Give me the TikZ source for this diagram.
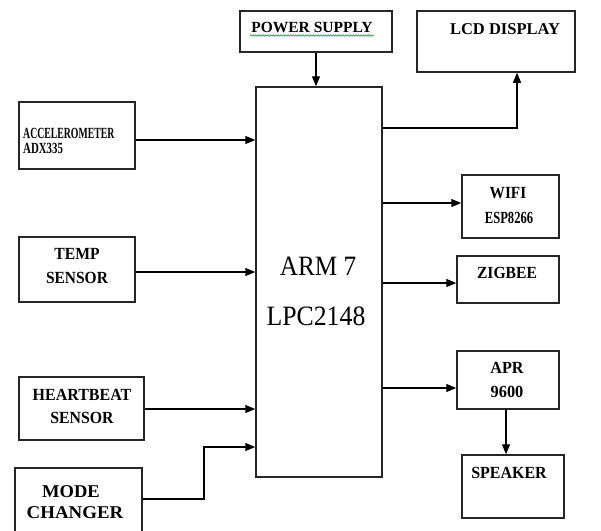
\documentclass[tikz,border=0pt]{standalone}
\usepackage{fontspec}
\setmainfont{Liberation Serif}
\usetikzlibrary{arrows.meta,decorations.pathmorphing}
\newcommand\tx[3]{\scalebox{#2}[1]{\fontsize{#1}{#1}\selectfont #3}}
\begin{document}
\begin{tikzpicture}[x=1pt,y=-1pt,
  box/.style={draw,line width=1.5pt,inner sep=0pt,draw=black!85},
  lbl/.style={inner sep=0pt,anchor=base,font=\bfseries},
  big/.style={inner sep=0pt,anchor=base},
  arr/.style={line width=1.3pt,-{Triangle[length=10pt,width=8pt]}}]
\useasboundingbox (0,0) rectangle (601,530);
\clip (0,0) rectangle (601,530);
\fill[white] (0,0) rectangle (601,530);
% boxes
\node[box,minimum width=152pt,minimum height=41pt] (power) at (316,31.5) {};
\node[box,minimum width=158pt,minimum height=61pt] (lcd) at (496,41.5) {};
\node[box,minimum width=126pt,minimum height=390pt] (arm) at (319,282) {};
\node[box,minimum width=116pt,minimum height=67pt] (acc) at (77,135.5) {};
\node[box,minimum width=116pt,minimum height=65pt] (temp) at (77,269.5) {};
\node[box,minimum width=125pt,minimum height=63pt] (heart) at (81.5,408.5) {};
\node[box,minimum width=127pt,minimum height=80pt] (mode) at (78.5,508) {};
\node[box,minimum width=97pt,minimum height=63pt] (wifi) at (510.5,206.5) {};
\node[box,minimum width=102pt,minimum height=47pt] (zig) at (508,279.5) {};
\node[box,minimum width=102pt,minimum height=58pt] (apr) at (508,380) {};
\node[box,minimum width=102pt,minimum height=63pt] (spk) at (513,486.5) {};
% texts
\node[lbl] (tpower) at (312,32) {\tx{15.5}{1.0}{POWER SUPPLY}};
\draw[green!55!black,line width=0.5pt,decorate,decoration={snake,amplitude=0.7pt,segment length=2.5pt}] (250,35.5) -- (374,35.5);
\node[lbl] (tlcd) at (505,34) {\tx{16.5}{1.0}{LCD DISPLAY}};
\node[lbl,anchor=base west] (tacc1) at (23,138) {\tx{15.5}{0.63}{ACCELEROMETER}};
\node[lbl,anchor=base west] (tacc2) at (23,153) {\tx{15.5}{0.7}{ADX335}};
\node[lbl] (ttemp1) at (77,259) {\tx{17}{0.92}{TEMP}};
\node[lbl] (ttemp2) at (77,283) {\tx{17}{0.91}{SENSOR}};
\node[lbl] (theart1) at (82,400) {\tx{17}{0.94}{HEARTBEAT}};
\node[lbl] (theart2) at (82,423) {\tx{17}{0.93}{SENSOR}};
\node[lbl] (tmode1) at (71,497) {\tx{18}{1.03}{MODE}};
\node[lbl] (tmode2) at (75,518) {\tx{18}{1.05}{CHANGER}};
\node[big] (tarm1) at (318,275) {\tx{28}{0.9}{ARM 7}};
\node[big] (tarm2) at (316,325) {\tx{28}{0.92}{LPC2148}};
\node[lbl] (twifi1) at (508,198) {\tx{17}{0.9}{WIFI}};
\node[lbl] (twifi2) at (509,223) {\tx{17}{0.74}{ESP8266}};
\node[lbl] (tzig) at (507,278) {\tx{17}{0.92}{ZIGBEE}};
\node[lbl] (tapr1) at (507,373) {\tx{17}{0.95}{APR}};
\node[lbl] (tapr2) at (507,397) {\tx{17}{0.96}{9600}};
\node[lbl] (tspk) at (509,478) {\tx{17}{0.94}{SPEAKER}};
% connectors
\draw[arr] (power.south) -- (arm.north -| power.south);
\draw[arr] (arm.east |- 0,128) -| (lcd.south -| 517,0);
\draw[arr] (acc.east |- 0,140) -- (arm.west |- 0,140);
\draw[arr] (temp.east |- 0,272) -- (arm.west |- 0,272);
\draw[arr] (heart.east |- 0,409) -- (arm.west |- 0,409);
\draw[arr] (mode.east |- 0,499) -- (204,499) |- (arm.west |- 0,447);
\draw[arr] (arm.east |- 0,203) -- (wifi.west |- 0,203);
\draw[arr] (arm.east |- 0,283) -- (zig.west |- 0,283);
\draw[arr] (arm.east |- 0,388) -- (apr.west |- 0,388);
\draw[arr] (apr.south -| 506,0) -- (spk.north -| 506,0);
\end{tikzpicture}
\end{document}
